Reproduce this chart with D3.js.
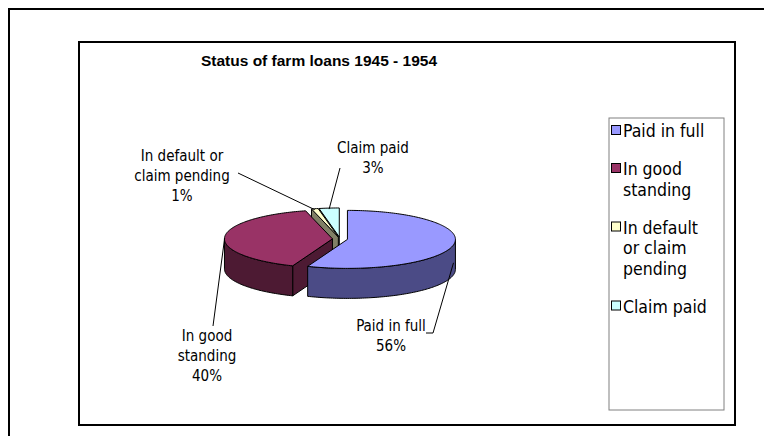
<!DOCTYPE html>
<html>
<head>
<meta charset="utf-8">
<script src="https://cdn.jsdelivr.net/npm/d3@7"></script>
<style>
  body { margin: 0; background: #fff; }
  text { font-family: Tahoma, "DejaVu Sans Condensed", "DejaVu Sans", sans-serif; fill: #000; }
</style>
</head>
<body>
<div id="container"></div>
<script>
/**
 * DATA
 * */
const categories = ["Paid in full", "In good standing", "In default or claim pending", "Claim paid"];
const values = [56, 40, 1, 3];
const percentLabels = ["56%", "40%", "1%", "3%"];
// how the names wrap, in the legend and next to the pie
const legendLines = [["Paid in full"], ["In good", "standing"], ["In default", "or claim", "pending"], ["Claim paid"]];
const pieLines = [["Paid in full"], ["In good", "standing"], ["In default or", "claim pending"], ["Claim paid"]];

/**
 * CONSTANTS
 * */
const width = 764,
  height = 436;
const topColors = ["#9999ff", "#993366", "#ffffcc", "#ccffff"];
const sideColors = ["#4b4b86", "#4d1a33", "#808066", "#668080"];

// 3d pie geometry
const cx = 340, cy = 239, rx = 108, ry = 29, depth = 30, explode = 0.07;

// label placement (center of text block) and where the leader leaves it
const labelPos = [
  { x: 391, y: 326, from: [[426, 333], [433, 333]] },
  { x: 207, y: 336, from: [[213, 326]] },
  { x: 182, y: 156, from: [[238, 173]] },
  { x: 373, y: 148, from: [[340, 168]] },
];

const svg = d3.select("#container").append("svg")
  .attr("width", width)
  .attr("height", height);

// outer frame and chart area
svg.append("rect").attr("x", 9).attr("y", 9).attr("width", 780).attr("height", 460)
  .attr("fill", "none").attr("stroke", "#000").attr("stroke-width", 2);
svg.append("rect").attr("x", 79).attr("y", 42).attr("width", 656).attr("height", 383)
  .attr("fill", "#fff").attr("stroke", "#000").attr("stroke-width", 2);

svg.append("text")
  .attr("x", 319).attr("y", 66)
  .attr("text-anchor", "middle")
  .attr("font-size", 15.5).attr("font-weight", "bold")
  .style("font-family", "'Liberation Sans', Arial, sans-serif")
  .text("Status of farm loans 1945 - 1954");

/**
 * PIE
 * */
const pie = d3.pie().sort(null).value((d) => d)
  .startAngle(0).endAngle(2 * Math.PI);
const arcs = pie(values).map((d, i) => {
  const mid = (d.startAngle + d.endAngle) / 2;
  return {
    ...d, i, mid,
    ox: cx + explode * rx * Math.sin(mid),
    oy: cy - explode * ry * Math.cos(mid),
  };
});

const pt = (a, ox, oy, dy = 0) => [ox + rx * Math.sin(a), oy - ry * Math.cos(a) + dy];

function rimPoints(a0, a1, ox, oy, dy) {
  const n = Math.max(2, Math.ceil((a1 - a0) / 0.02));
  return d3.range(n + 1).map((k) => pt(a0 + (a1 - a0) * k / n, ox, oy, dy));
}

const line = d3.line();
const faces = [];

arcs.forEach((d) => {
  const { startAngle: s, endAngle: e, ox, oy } = d;
  // outer wall, only the part that faces us
  const f0 = Math.max(s, Math.PI / 2), f1 = Math.min(e, 3 * Math.PI / 2);
  if (f1 > f0) {
    const topEdge = rimPoints(f0, f1, ox, oy, 0);
    const botEdge = rimPoints(f0, f1, ox, oy, depth).reverse();
    faces.push({ i: d.i, z: oy + ry, pts: topEdge.concat(botEdge) });
  }
  // cut walls
  if (Math.sin(s) < -1e-6) {
    const p = pt(s, ox, oy);
    faces.push({ i: d.i, z: (oy + p[1]) / 2, pts: [[ox, oy], p, [p[0], p[1] + depth], [ox, oy + depth]] });
  }
  if (Math.sin(e) > 1e-6) {
    const p = pt(e, ox, oy);
    faces.push({ i: d.i, z: (oy + p[1]) / 2, pts: [[ox, oy], p, [p[0], p[1] + depth], [ox, oy + depth]] });
  }
});
faces.sort((a, b) => a.z - b.z);

svg.append("g").selectAll("path")
  .data(faces)
  .join("path")
  .attr("d", (d) => line(d.pts) + "Z")
  .attr("fill", (d) => sideColors[d.i])
  .attr("stroke", "#000")
  .attr("stroke-width", 1)
  .attr("stroke-linejoin", "round");

svg.append("g").selectAll("path")
  .data(arcs)
  .join("path")
  .attr("d", (d) => line([[d.ox, d.oy]].concat(rimPoints(d.startAngle, d.endAngle, d.ox, d.oy, 0))) + "Z")
  .attr("fill", (d) => topColors[d.i])
  .attr("stroke", "#000")
  .attr("stroke-width", 1)
  .attr("stroke-linejoin", "round");

/**
 * LABELS
 * */
const lh = 20;
const labels = svg.append("g").selectAll("g")
  .data(arcs)
  .join("g");

// leaders end on the rim, or halfway down the wall for slices facing us
const anchor = (d) => {
  const front = d.mid > Math.PI / 2 && d.mid < 3 * Math.PI / 2;
  return pt(d.mid, d.ox, d.oy, front ? depth * 0.6 : 1);
};

labels.append("path")
  .attr("fill", "none")
  .attr("stroke", "#000")
  .attr("stroke-width", 1)
  .attr("d", (d) => line(labelPos[d.i].from.concat([anchor(d)])));

labels.append("text")
  .attr("text-anchor", "middle")
  .attr("font-size", 15)
  .selectAll("tspan")
  .data((d) => {
    const rows = pieLines[d.i].concat([percentLabels[d.i]]);
    const y0 = labelPos[d.i].y;
    return rows.map((t, k) => ({ t, x: labelPos[d.i].x, y: y0 + k * lh }));
  })
  .join("tspan")
  .attr("x", (d) => d.x)
  .attr("y", (d) => d.y + 5)
  .text((d) => d.t);

/**
 * LEGEND
 * */
const legend = svg.append("g");
legend.append("rect")
  .attr("x", 609).attr("y", 118).attr("width", 115).attr("height", 292)
  .attr("fill", "#fff").attr("stroke", "#808080").attr("stroke-width", 1);

// entries stacked with an even gap, each as tall as its wrapped lines
const legLh = 20.5, legGap = 17.5, legTop = 131;
const legendY = [];
legendLines.reduce((y, rows) => {
  legendY.push(y);
  return y + rows.length * legLh + legGap;
}, legTop);

const entry = legend.selectAll("g.entry")
  .data(categories)
  .join("g")
  .attr("class", "entry")
  .attr("transform", (d, i) => `translate(0, ${legendY[i]})`);

entry.append("rect")
  .attr("x", 611.5).attr("y", -5.5).attr("width", 9).attr("height", 9)
  .attr("fill", (d, i) => topColors[i])
  .attr("stroke", "#000");

entry.append("text")
  .attr("font-size", 17.5)
  .selectAll("tspan")
  .data((d, i) => legendLines[i])
  .join("tspan")
  .attr("x", 623)
  .attr("y", (d, k) => 6 + k * legLh)
  .text((d) => d);
</script>
</body>
</html>
